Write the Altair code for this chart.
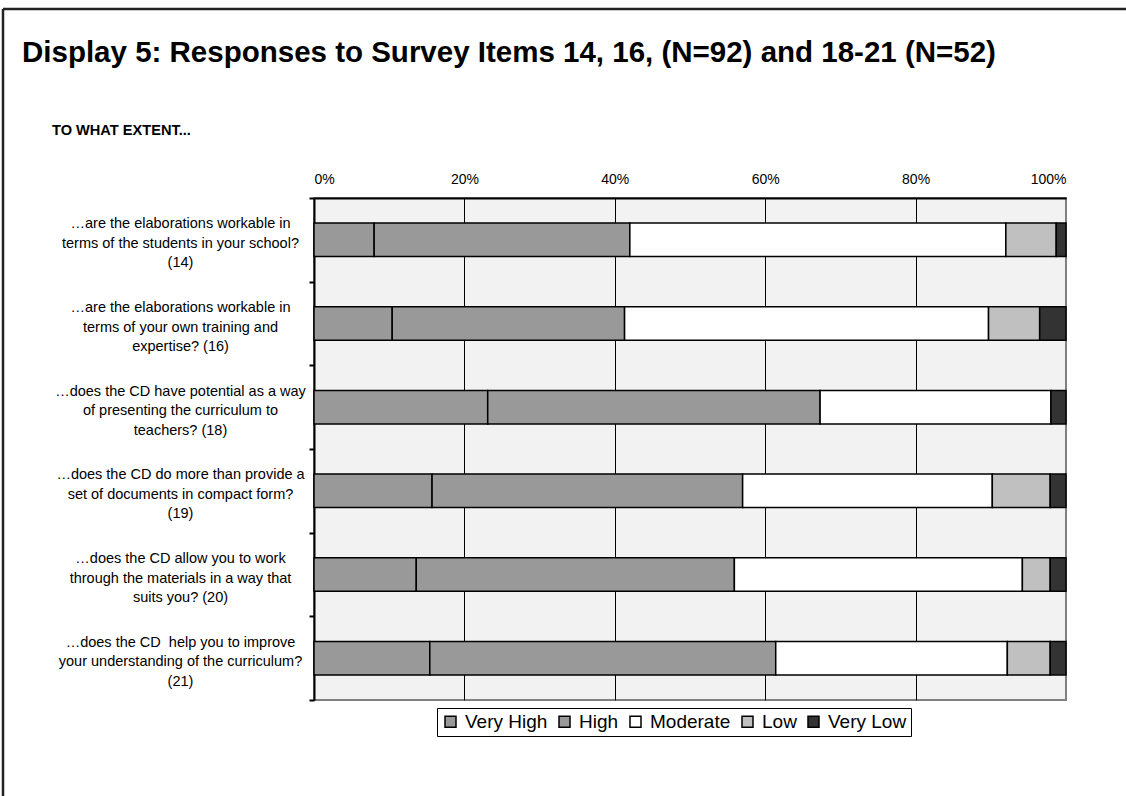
import altair as alt
import pandas as pd

# Survey items (label lines) in display order
item_lines = [
    ["\u2026are the elaborations workable in", "terms of the students in your school?", "(14)"],
    ["\u2026are the elaborations workable in", "terms of your own training and", "expertise? (16)"],
    ["\u2026does the CD have potential as a way", "of presenting the curriculum to", "teachers? (18)"],
    ["\u2026does the CD do more than provide a", "set of documents in compact form?", "(19)"],
    ["\u2026does the CD allow you to work", "through the materials in a way that", "suits you? (20)"],
    ["\u2026does the CD\u00a0 help you to improve", "your understanding of the curriculum?", "(21)"],
]
items = ["|".join(lines) for lines in item_lines]

ratings = ["Very High", "High", "Moderate", "Low", "Very Low"]
rating_colors = ["#999999", "#999999", "#ffffff", "#c0c0c0", "#333333"]

# Percent of responses per rating, one list per rating (items in order above)
very_high = [8.0, 10.4, 23.1, 15.7, 13.6, 15.4]
high = [34.0, 30.9, 44.2, 41.3, 42.3, 46.0]
moderate = [50.0, 48.4, 30.7, 33.2, 38.3, 30.8]
low = [6.7, 6.8, 0.0, 7.7, 3.7, 5.7]
very_low = [1.3, 3.5, 2.0, 2.1, 2.1, 2.1]

title_text = "Display 5: Responses to Survey Items 14, 16, (N=92) and 18-21 (N=52)"
subtitle_text = "TO WHAT EXTENT..."

rows = []
for r_idx, (rating, series) in enumerate(zip(ratings, [very_high, high, moderate, low, very_low])):
    for item, v in zip(items, series):
        if v > 0:
            rows.append({"item": item, "rating": rating, "rank": r_idx, "pct": v / 100.0})
df = pd.DataFrame(rows)

FONT = "Liberation Sans, Arial, sans-serif"

bars = (
    alt.Chart(df)
    .mark_bar(stroke="black", strokeWidth=1.5, height={"band": 0.4}, opacity=1)
    .encode(
        x=alt.X(
            "pct:Q",
            stack="zero",
            scale=alt.Scale(domain=[0, 1], nice=False, zero=True),
            axis=alt.Axis(
                orient="top",
                format="%",
                values=[0, 0.2, 0.4, 0.6, 0.8, 1.0],
                title=None,
                grid=True,
                gridColor={"condition": {"test": "datum.value >= 1", "value": "#808080"}, "value": "black"},
                gridWidth=1,
                gridOpacity=1,
                domainColor="black",
                domainWidth=2,
                ticks=False,
                labelPadding=12,
                labelFontSize=14,
                labelColor="black",
                labelFont=FONT,
            ),
        ),
        y=alt.Y(
            "item:N",
            sort=items,
            scale=alt.Scale(paddingInner=0, paddingOuter=0),
            axis=alt.Axis(
                title=None,
                labelExpr="split(datum.label, '|')",
                labelAlign="center",
                labelBaseline="middle",
                labelPadding=129,
                labelOffset=-16,
                labelLimit=400,
                labelFontSize=14.5,
                labelLineHeight=19.5,
                labelColor="black",
                labelFont=FONT,
                domainColor="black",
                domainWidth=2,
                tickColor="black",
                tickWidth=2,
                tickSize=5,
                tickBand="extent",
                grid=False,
            ),
        ),
        color=alt.Color(
            "rating:N",
            scale=alt.Scale(domain=ratings, range=rating_colors),
            legend=alt.Legend(
                title=None,
                orient="none",
                direction="horizontal",
                legendX=123,
                legendY=510,
                symbolType="square",
                symbolSize=121,
                symbolStrokeColor="black",
                symbolStrokeWidth=1.5,
                symbolOpacity=1,
                labelFontSize=19,
                labelFont=FONT,
                labelColor="black",
                labelOffset=5,
                columnPadding=7,
                padding=4,
                strokeColor="black",
                fillColor="white",
                labelLimit=200,
            ),
        ),
        order=alt.Order("rank:Q", sort="ascending"),
    )
)

one = pd.DataFrame({"k": [0]})

title = (
    alt.Chart(pd.DataFrame({"t": [title_text]}))
    .mark_text(align="left", baseline="alphabetic", fontSize=29.5, fontWeight="bold", font=FONT, color="black")
    .encode(x=alt.value(-292), y=alt.value(-136), text="t:N")
)
subtitle = (
    alt.Chart(pd.DataFrame({"t": [subtitle_text]}))
    .mark_text(align="left", baseline="alphabetic", fontSize=14.6, fontWeight="bold", font=FONT, color="black")
    .encode(x=alt.value(-262), y=alt.value(-63), text="t:N")
)

# outer frame of the page
frame_top = alt.Chart(one).mark_rule(color="#222222", strokeWidth=2.5).encode(
    x=alt.value(-311), x2=alt.value(812), y=alt.value(-189)
)
frame_left = alt.Chart(one).mark_rule(color="#222222", strokeWidth=2.5).encode(
    x=alt.value(-311), y=alt.value(-189), y2=alt.value(598)
)

chart = (
    alt.layer(bars, title, subtitle, frame_top, frame_left)
    .properties(
        width=752,
        height=502,
        padding={"left": 314, "top": 198, "right": 60, "bottom": 96},
        autosize=alt.AutoSizeParams(type="none"),
        background="white",
    )
    .configure_view(stroke="#808080", strokeWidth=2, fill="#f2f2f2")
)

chart.save("out.html", embed_options={"renderer": "svg", "actions": False})
